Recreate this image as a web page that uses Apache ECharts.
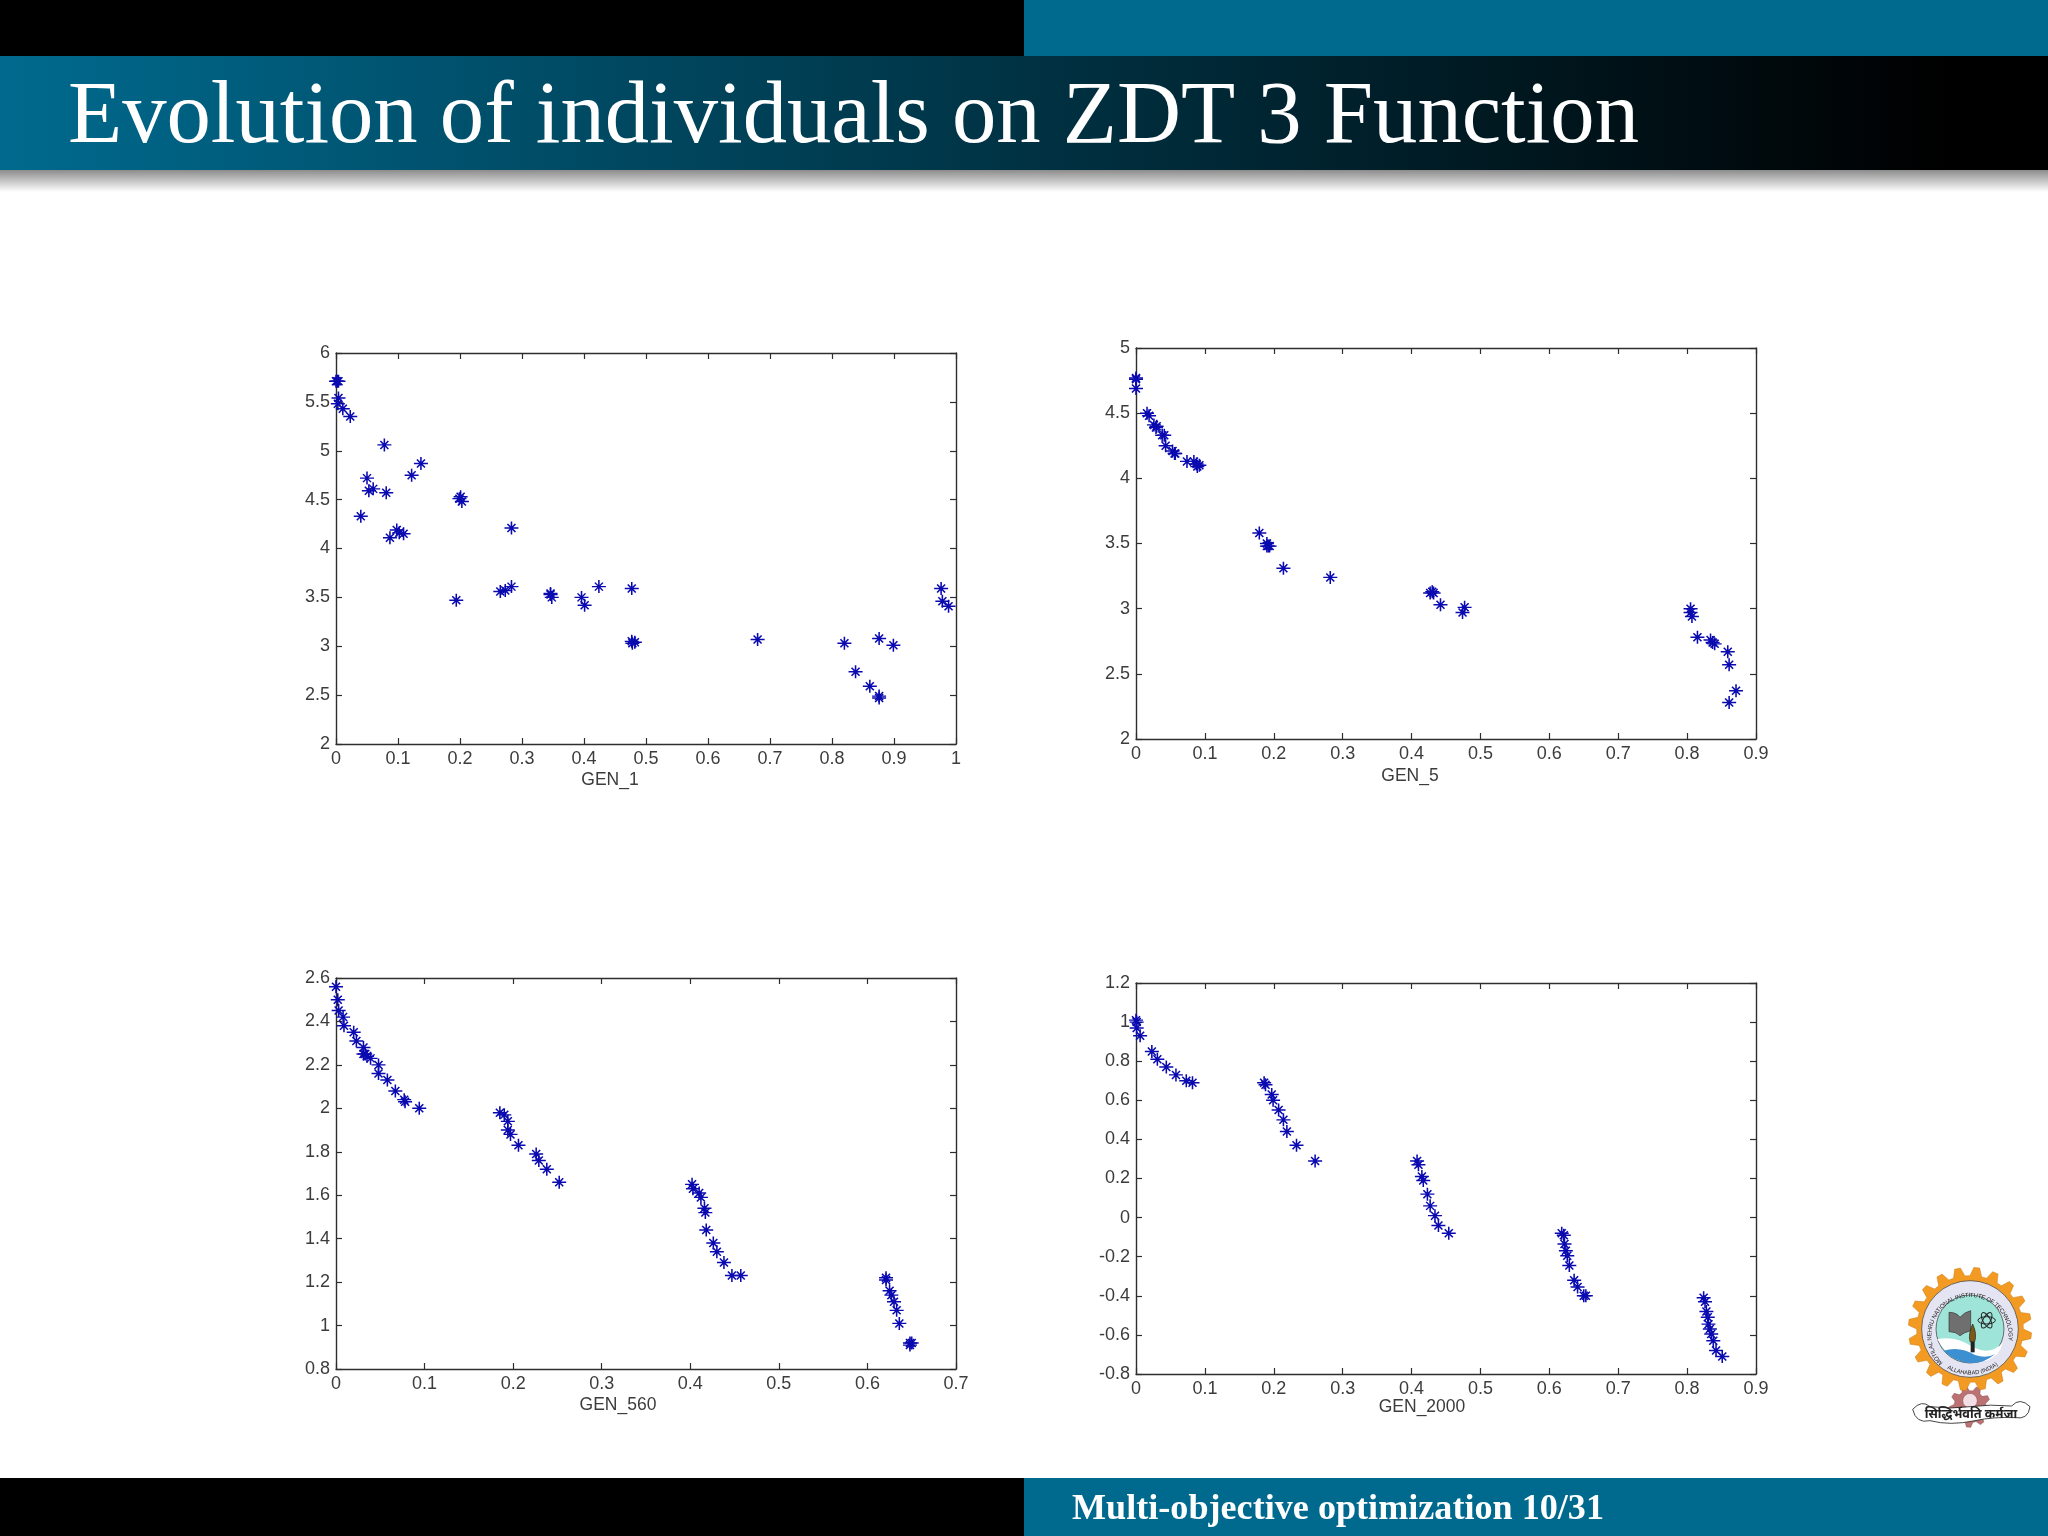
<!DOCTYPE html>
<html>
<head>
<meta charset="utf-8">
<title>Evolution of individuals on ZDT 3 Function</title>
<script src="https://cdn.jsdelivr.net/npm/echarts@6/dist/echarts.min.js"></script>
<style>
  html, body { margin: 0; padding: 0; background: #fff; }
  #main { position: absolute; left: 0; top: 0; width: 2048px; height: 1536px; }
  #logo { position: absolute; left: 1880px; top: 1250px; width: 168px; height: 190px; }
</style>
</head>
<body>
<div id="main"></div>
<svg id="logo" viewBox="0 0 504 570">
  <defs>
    <path id="ringTop" d="M 188 322 A 116 116 0 1 1 352 322" />
    <path id="ringBottom" d="M 176 319 A 136 136 0 0 0 364 319" />
  </defs>
  <path id="smallGear" fill="#bb7272" stroke="#8f5050" stroke-width="1.5" />
  <circle cx="270" cy="452" r="22" fill="#f2dfe6" stroke="#8f5050" stroke-width="2" />
  <g transform="translate(0,17)">
    <path id="gear" fill="#f39a22" stroke="#c87a14" stroke-width="1.5" />
    <circle cx="270" cy="220" r="145" fill="#e4e4f2" stroke="#333" stroke-width="2" />
    <circle cx="270" cy="220" r="102" fill="#9fe4d8" stroke="#333" stroke-width="2" />
  </g>
  <g transform="translate(0,17)">
    <text font-family="Liberation Sans" font-size="18" fill="#222" textLength="470">
      <textPath href="#ringTop">MOTILAL NEHRU NATIONAL INSTITUTE OF TECHNOLOGY</textPath>
    </text>
    <text font-family="Liberation Sans" font-size="17" fill="#222">
      <textPath href="#ringBottom" startOffset="32">ALLAHABAD (INDIA)</textPath>
    </text>
    <path d="M172 250 Q230 240 280 275 Q330 300 368 262 Q360 300 320 315 L235 312 Q190 290 172 250 Z" fill="#fff" />
    <path d="M190 285 Q240 270 285 298 Q320 310 345 295 Q310 325 270 322 Q225 318 190 285 Z" fill="#3c8fd0" />
    <path d="M207 170 Q230 170 240 185 Q252 170 272 165 L272 225 Q252 230 240 240 Q228 228 207 228 Z" fill="#6f6f6f" stroke="#333" stroke-width="2" />
    <g fill="none" stroke="#222" stroke-width="3">
      <ellipse cx="320" cy="194" rx="26" ry="11" />
      <ellipse cx="320" cy="194" rx="26" ry="11" transform="rotate(60 320 194)" />
      <ellipse cx="320" cy="194" rx="26" ry="11" transform="rotate(120 320 194)" />
    </g>
    <path d="M278 205 Q292 235 284 258 L270 258 Q264 235 278 205 Z" fill="#7a5a16" stroke="#222" stroke-width="2" />
    <rect x="272" y="258" width="12" height="32" fill="#222" />
  </g>
  <path d="M98 478 Q125 448 150 470 Q210 478 270 470 Q330 462 395 468 Q420 440 450 470 Q445 510 405 503 Q340 500 285 512 Q210 528 150 512 Q108 522 98 478 Z" fill="#fff" stroke="#222" stroke-width="2.5" />
  <text x="273" y="503" text-anchor="middle" font-family="Noto Sans Devanagari, Noto Sans, sans-serif" font-size="38" font-weight="700" fill="#222">सिद्धिर्भवति कर्मजा</text>
</svg>
<script>
// GEN_1
const gen1X = [0.000, 0.002, 0.004, 0.004, 0.003, 0.011, 0.023, 0.078, 0.137, 0.122, 0.050, 0.053, 0.060, 0.081, 0.040,
  0.201, 0.199, 0.203, 0.283, 0.098, 0.102, 0.109, 0.087, 0.194, 0.265, 0.273, 0.283, 0.346, 0.346, 0.348,
  0.396, 0.401, 0.424, 0.477, 0.477, 0.482, 0.478, 0.680, 0.820, 0.876, 0.899, 0.838, 0.861, 0.876, 0.876,
  0.976, 0.978, 0.988];
const gen1Y = [5.71, 5.71, 5.71, 5.54, 5.48, 5.43, 5.35, 5.06, 4.87, 4.75, 4.72, 4.59, 4.61, 4.57, 4.33,
  4.53, 4.51, 4.48, 4.21, 4.19, 4.16, 4.15, 4.11, 3.47, 3.56, 3.57, 3.61, 3.53, 3.54, 3.50,
  3.50, 3.42, 3.61, 3.59, 3.05, 3.04, 3.03, 3.07, 3.03, 3.08, 3.01, 2.74, 2.59, 2.49, 2.47,
  3.59, 3.46, 3.41];

// GEN_5
const gen5X = [0.000, 0.000, 0.000, 0.016, 0.019, 0.026, 0.030, 0.029, 0.038, 0.041, 0.043, 0.053, 0.056, 0.057,
  0.074, 0.084, 0.088, 0.089, 0.092, 0.179, 0.190, 0.194, 0.192, 0.190, 0.214, 0.282, 0.427, 0.432, 0.430,
  0.442, 0.477, 0.474, 0.805, 0.805, 0.807, 0.815, 0.834, 0.837, 0.840, 0.859, 0.861, 0.871, 0.861];
const gen5Y = [4.77, 4.76, 4.69, 4.50, 4.48, 4.41, 4.40, 4.39, 4.33, 4.33, 4.25, 4.21, 4.19, 4.19,
  4.13, 4.13, 4.11, 4.09, 4.10, 3.58, 3.50, 3.48, 3.48, 3.48, 3.31, 3.24, 3.12, 3.12, 3.13,
  3.03, 3.01, 2.97, 3.00, 2.97, 2.94, 2.78, 2.76, 2.74, 2.73, 2.67, 2.57, 2.37, 2.28];

// GEN_560
const gen560X = [0.000, 0.002, 0.003, 0.008, 0.009, 0.020, 0.023, 0.031, 0.031, 0.033, 0.035, 0.039, 0.048, 0.048,
  0.058, 0.067, 0.077, 0.078, 0.094, 0.185, 0.190, 0.194, 0.194, 0.197, 0.206, 0.226, 0.229, 0.238, 0.252,
  0.402, 0.403, 0.410, 0.412, 0.416, 0.417, 0.418, 0.426, 0.430, 0.438, 0.447, 0.457,
  0.621, 0.621, 0.625, 0.627, 0.630, 0.633, 0.636, 0.648, 0.650, 0.648];
const gen560Y = [2.56, 2.50, 2.45, 2.42, 2.38, 2.35, 2.31, 2.28, 2.25, 2.25, 2.24, 2.23, 2.20, 2.16,
  2.13, 2.08, 2.04, 2.03, 2.00, 1.98, 1.97, 1.94, 1.90, 1.88, 1.83, 1.79, 1.76, 1.72, 1.66,
  1.65, 1.63, 1.61, 1.59, 1.54, 1.52, 1.44, 1.38, 1.34, 1.29, 1.23, 1.23,
  1.22, 1.21, 1.16, 1.14, 1.11, 1.07, 1.01, 0.92, 0.92, 0.91];

// GEN_2000
const gen2000X = [0.000, 0.001, 0.001, 0.006, 0.023, 0.031, 0.044, 0.058, 0.073, 0.082,
  0.186, 0.188, 0.197, 0.199, 0.207, 0.214, 0.219, 0.233, 0.260,
  0.408, 0.410, 0.415, 0.417, 0.423, 0.427, 0.434, 0.439, 0.454,
  0.618, 0.621, 0.622, 0.624, 0.626, 0.629, 0.636, 0.641, 0.650, 0.653,
  0.824, 0.826, 0.828, 0.830, 0.831, 0.833, 0.835, 0.838, 0.842, 0.851];
const gen2000Y = [1.01, 1.00, 0.97, 0.93, 0.85, 0.81, 0.77, 0.73, 0.70, 0.69,
  0.69, 0.68, 0.63, 0.60, 0.55, 0.50, 0.44, 0.37, 0.29,
  0.29, 0.27, 0.21, 0.19, 0.12, 0.06, 0.01, -0.04, -0.08,
  -0.08, -0.09, -0.135, -0.17, -0.195, -0.245, -0.32, -0.355, -0.40, -0.40,
  -0.41, -0.43, -0.48, -0.51, -0.545, -0.57, -0.595, -0.63, -0.68, -0.71];

const panelNames = ['GEN_1', 'GEN_5', 'GEN_560', 'GEN_2000'];
const pageTitle = 'Evolution of individuals on ZDT 3 Function';
const footerText = 'Multi-objective optimization 10/31';

// panel layout + axis ranges, one entry per plot
const panels = [
  { xs: gen1X, ys: gen1Y, left: 336, top: 353, width: 620, height: 391, xMax: 1, yMin: 2, yMax: 6, yStep: 0.5, nameX: 610, nameY: 771 },
  { xs: gen5X, ys: gen5Y, left: 1136, top: 348, width: 620, height: 391, xMax: 0.9, yMin: 2, yMax: 5, yStep: 0.5, nameX: 1410, nameY: 767 },
  { xs: gen560X, ys: gen560Y, left: 336, top: 978, width: 620, height: 391, xMax: 0.7, yMin: 0.8, yMax: 2.6, yStep: 0.2, nameX: 618, nameY: 1396 },
  { xs: gen2000X, ys: gen2000Y, left: 1136, top: 983, width: 620, height: 391, xMax: 0.9, yMin: -0.8, yMax: 1.2, yStep: 0.2, nameX: 1422, nameY: 1398 }
];

const axisColor = '#2e2e2e';
// long plus with shorter diagonals, like the matlab * marker in this image
const starPath = 'path://M7 0L7 13M0 6.5L14 6.5M3 2.5L11 10.5M3 10.5L11 2.5';

function makeAxis(p, i, kind, pos, withLabels) {
  const isX = kind === 'x';
  return {
    type: 'value',
    gridIndex: i,
    position: pos,
    min: isX ? 0 : p.yMin,
    max: isX ? p.xMax : p.yMax,
    interval: isX ? 0.1 : p.yStep,
    axisLine: { show: true, onZero: false, lineStyle: { color: axisColor, width: 1.4 } },
    axisTick: { show: true, inside: true, length: 6, lineStyle: { color: axisColor, width: 1.2 } },
    splitLine: { show: false },
    axisLabel: {
      show: withLabels,
      margin: 6,
      color: '#3c3c3c',
      fontFamily: 'Liberation Sans',
      fontSize: 18
    }
  };
}

// measure so the serif substitute spans the same width as the slide text
function fitScale(text, font, target) {
  const ctx = document.createElement('canvas').getContext('2d');
  ctx.font = font;
  return target / ctx.measureText(text).width;
}

const titleFont = '88px "Liberation Serif"';
const footerFont = 'bold 35px "Liberation Serif"';

const slideGraphics = [
  { type: 'rect', shape: { x: 0, y: 0, width: 1024, height: 56 }, style: { fill: '#000' } },
  { type: 'rect', shape: { x: 1024, y: 0, width: 1024, height: 56 }, style: { fill: '#006a8e' } },
  {
    type: 'rect', shape: { x: 0, y: 56, width: 2048, height: 114 },
    style: { fill: { type: 'linear', x: 0, y: 0, x2: 1, y2: 0, colorStops: [{ offset: 0, color: '#006a8e' }, { offset: 0.95, color: '#000' }, { offset: 1, color: '#000' }] } }
  },
  {
    type: 'rect', shape: { x: 0, y: 170, width: 2048, height: 22 },
    style: { fill: { type: 'linear', x: 0, y: 0, x2: 0, y2: 1, colorStops: [{ offset: 0, color: '#8c8c8c' }, { offset: 1, color: '#fff' }] } }
  },
  { type: 'rect', shape: { x: 0, y: 1478, width: 1024, height: 58 }, style: { fill: '#000' } },
  { type: 'rect', shape: { x: 1024, y: 1478, width: 1024, height: 58 }, style: { fill: '#006a8e' } },
  {
    type: 'text', x: 68, y: 163, scaleX: fitScale(pageTitle, titleFont, 1571),
    style: { text: pageTitle, font: titleFont, fill: '#fff', verticalAlign: 'bottom' }
  },
  {
    type: 'text', x: 1072, y: 1527, scaleX: fitScale(footerText, footerFont, 532),
    style: { text: footerText, font: footerFont, fill: '#fff', verticalAlign: 'bottom' }
  }
];

const option = {
  animation: false,
  backgroundColor: '#fff',
  graphic: slideGraphics,
  title: panels.map((p, i) => ({
    text: panelNames[i],
    left: p.nameX,
    top: p.nameY,
    textAlign: 'center',
    padding: 0,
    textStyle: { color: '#3c3c3c', fontFamily: 'Liberation Sans', fontWeight: 'normal', fontSize: 17.5 }
  })),
  grid: panels.map(p => ({ left: p.left, top: p.top, width: p.width, height: p.height, containLabel: false })),
  xAxis: panels.flatMap((p, i) => [makeAxis(p, i, 'x', 'bottom', true), makeAxis(p, i, 'x', 'top', false)]),
  yAxis: panels.flatMap((p, i) => [makeAxis(p, i, 'y', 'left', true), makeAxis(p, i, 'y', 'right', false)]),
  series: panels.map((p, i) => ({
    type: 'scatter',
    xAxisIndex: i * 2,
    yAxisIndex: i * 2,
    clip: false,
    symbol: starPath,
    symbolSize: [14, 13],
    itemStyle: { color: 'rgba(0,0,0,0)', borderColor: '#0a0ab0', borderWidth: 1.5, opacity: 1 },
    data: p.xs.map((x, k) => [x, p.ys[k]])
  }))
};

const chart = echarts.init(document.getElementById('main'));
chart.setOption(option);

// logo gears
function gearPath(cx, cy, outer, root, teeth) {
  let d = '';
  const step = Math.PI * 2 / teeth;
  for (let i = 0; i < teeth; i++) {
    const a = i * step;
    const pts = [[a, root], [a + step * 0.2, outer], [a + step * 0.5, outer], [a + step * 0.7, root]];
    pts.forEach(pt => {
      d += (d ? 'L' : 'M') + (cx + pt[1] * Math.cos(pt[0])).toFixed(1) + ' ' + (cy + pt[1] * Math.sin(pt[0])).toFixed(1);
    });
  }
  return d + 'Z';
}
document.getElementById('gear').setAttribute('d', gearPath(270, 220, 185, 160, 20));
document.getElementById('smallGear').setAttribute('d', gearPath(270, 470, 62, 48, 9));
</script>
</body>
</html>
